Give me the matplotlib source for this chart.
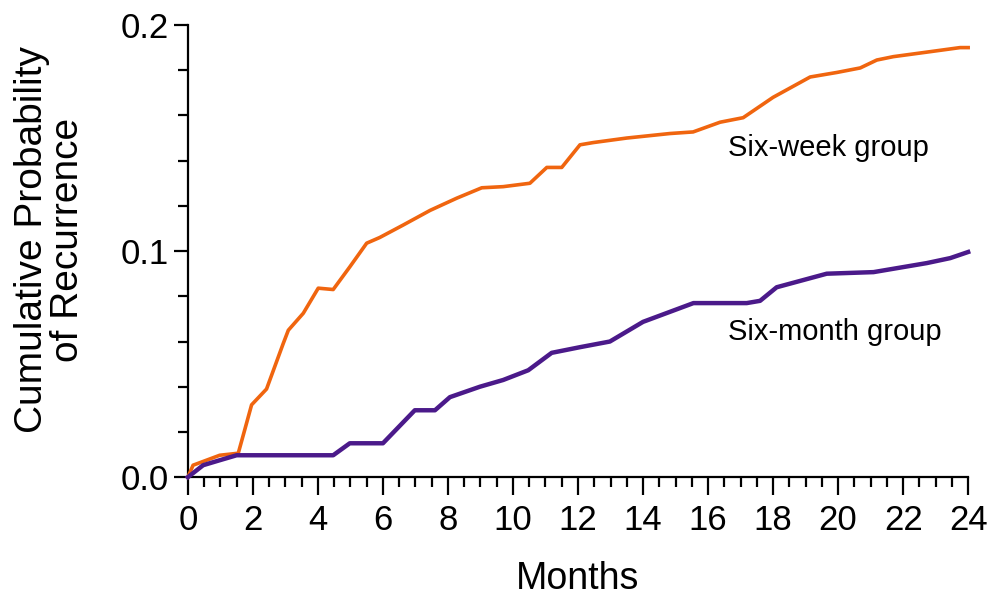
import numpy as np
import matplotlib.pyplot as plt
from matplotlib.ticker import MultipleLocator

# six-week group (months, cumulative probability)
week_months = [0, 0.16, 0.98, 1.55, 1.75, 1.96, 2.42, 2.93, 3.09, 3.55, 4.01, 4.47,
               4.98, 5.5, 5.9, 6.62, 7.45, 8.27, 9.04, 9.7, 10.52, 11.04, 11.5,
               12.06, 12.47, 13.5, 14.83, 15.54, 16.37, 17.08, 18.0, 19.14, 19.96,
               20.68, 21.19, 21.7, 22.73, 23.75, 24]
week_prob = [0, 0.0053, 0.0097, 0.0106, 0.021, 0.032, 0.039, 0.059, 0.065, 0.0725,
             0.0836, 0.0830, 0.093, 0.1035, 0.106, 0.1115, 0.118, 0.1234, 0.128,
             0.1285, 0.130, 0.137, 0.137, 0.147, 0.148, 0.150, 0.152, 0.1527,
             0.157, 0.159, 0.168, 0.177, 0.179, 0.181, 0.1845, 0.186, 0.188,
             0.190, 0.190]

# six-month group
month_months = [0, 0.47, 0.98, 1.5, 4.47, 4.98, 6.0, 6.98, 7.6, 8.06, 8.98, 9.7,
                10.47, 11.19, 12.06, 12.98, 14.0, 15.55, 17.19, 17.6, 18.11, 19.65,
                21.09, 22.73, 23.45, 24]
month_prob = [0, 0.0053, 0.0075, 0.0097, 0.0097, 0.015, 0.015, 0.0296, 0.0296,
              0.0354, 0.040, 0.043, 0.0473, 0.055, 0.0575, 0.060, 0.0687, 0.077,
              0.077, 0.078, 0.084, 0.090, 0.0907, 0.0947, 0.0969, 0.0996]

plt.rcParams['font.family'] = ['Liberation Sans', 'DejaVu Sans']
narrow = ['Liberation Sans Narrow', 'Liberation Sans']

fig = plt.figure(figsize=(9.94, 5.95), dpi=100)
ax = fig.add_axes([0.189, 0.198, 0.785, 0.760])

ax.plot(week_months, week_prob, color='#F0650F', lw=2.6, clip_on=False, zorder=3)
ax.plot(month_months, month_prob, color='#4B1A8A', lw=3.2, clip_on=False, zorder=3)

ax.text(16.6, 0.1456, 'Six-week group', fontsize=21, va='center', ha='left')
ax.text(16.6, 0.0642, 'Six-month group', fontsize=21, va='center', ha='left')

ax.set_xlim(0, 24)
ax.set_ylim(0, 0.2)
ax.xaxis.set_major_locator(MultipleLocator(2))
ax.xaxis.set_minor_locator(MultipleLocator(0.5))
ax.yaxis.set_major_locator(MultipleLocator(0.1))
ax.yaxis.set_minor_locator(MultipleLocator(0.02))
ax.yaxis.set_major_formatter(plt.FormatStrFormatter('%.1f'))

for s in ['top', 'right']:
    ax.spines[s].set_visible(False)
for s in ['left', 'bottom']:
    ax.spines[s].set_linewidth(1.6)

ax.tick_params(axis='both', which='major', labelsize=25, width=1.6, length=10, pad=4)
ax.tick_params(axis='both', which='minor', width=1.6, length=7)
ax.tick_params(axis='x', which='major', length=13, pad=6)
for lab in ax.get_xticklabels() + ax.get_yticklabels():
    lab.set_family(narrow)

ax.set_xlabel('Months', fontsize=27)
ax.xaxis.set_label_coords(0.5, -0.185)
ax.set_ylabel('Cumulative Probability\nof Recurrence', fontsize=28, linespacing=1.0)
ax.yaxis.set_label_coords(-0.13, 0.525)

fig.savefig('out.png', dpi=100)
